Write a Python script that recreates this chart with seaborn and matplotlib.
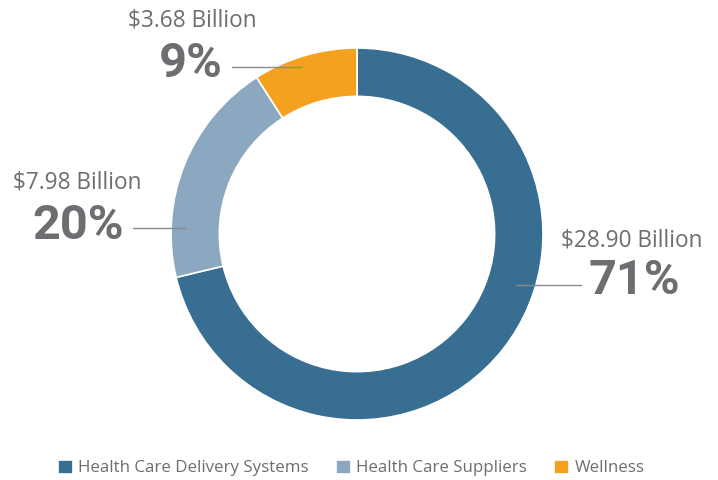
import matplotlib
matplotlib.use("Agg")
import matplotlib.pyplot as plt
import seaborn as sns
from matplotlib.lines import Line2D

# data
segments = ["Health Care Delivery Systems", "Health Care Suppliers", "Wellness"]
billions = [28.90, 7.98, 3.68]
colors = ["#376e91", "#8ca8c0", "#f4a11f"]

W, H = 718, 480
TXT = "#6d6e71"

sns.set_theme(style="white")
plt.rcParams["font.family"] = ["Open Sans", "DejaVu Sans"]

fig = plt.figure(figsize=(W / 100, H / 100), dpi=100)

# donut: centre (357, 234), outer radius 186 px
cx, cy, r = 357, 234, 186
ax = fig.add_axes([(cx - r) / W, (H - cy - r) / H, 2 * r / W, 2 * r / H])
wedges, _ = ax.pie(billions, colors=colors, startangle=90, counterclock=False,
                   radius=1, wedgeprops=dict(width=0.26, edgecolor="white", linewidth=1.2))
ax.set_xlim(-1, 1)
ax.set_ylim(-1, 1)
ax.set_aspect("equal")
ax.axis("off")


def px(x, y):
    return x / W, 1 - y / H


total = sum(billions)
# label positions in pixels: (amount text centre, percent centre, leader line)
layout = [
    ((632, 241), (634, 281), ((516, 285), (581, 285))),
    ((77, 183), (78, 226), ((133, 228), (186, 228))),
    ((192, 20), (191, 64), ((232, 67), (302, 67))),
]
for val, (amt, pct, line) in zip(billions, layout):
    fig.text(*px(*amt), f"${val:.2f} Billion", ha="center", va="center",
             fontsize=16.3, color=TXT)
    fig.text(*px(*pct), f"{round(val / total * 100)}%", ha="center", va="center",
             fontsize=35, color=TXT, fontweight="bold",
             family=["Roboto", "DejaVu Sans"])
    (x0, y0), (x1, y1) = line
    fig.add_artist(Line2D([x0 / W, x1 / W], [1 - y0 / H, 1 - y1 / H],
                          transform=fig.transFigure, color="#8a8b8d", lw=1))

leg = fig.legend(wedges, segments, loc="center", bbox_to_anchor=px(351, 468),
                 ncol=3, frameon=False, handlelength=0.9, handleheight=0.9,
                 handletextpad=0.3, columnspacing=1.6, fontsize=12.2)
for t in leg.get_texts():
    t.set_color(TXT)

fig.savefig("out.png", dpi=100)
